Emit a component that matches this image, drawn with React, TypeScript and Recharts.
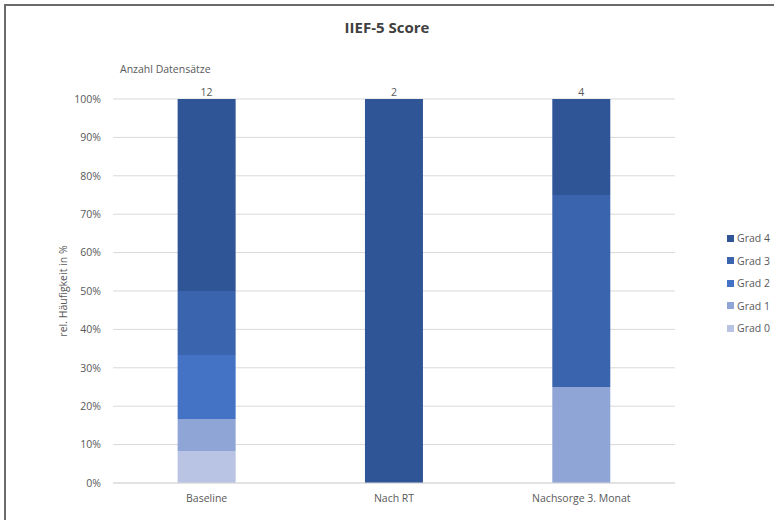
import React from "react";
import { BarChart, Bar, XAxis, YAxis, CartesianGrid, LabelList } from "recharts";

const categories = ["Baseline", "Nach RT", "Nachsorge 3. Monat"];
// Anzahl pro Grad (absolute Zahlen), gestapelt relativ dargestellt
const grad0 = [1, 0, 0];
const grad1 = [1, 0, 1];
const grad2 = [2, 0, 0];
const grad3 = [2, 0, 2];
const grad4 = [6, 2, 1];
const totals = [12, 2, 4];
const yTicks = [0, 0.1, 0.2, 0.3, 0.4, 0.5, 0.6, 0.7, 0.8, 0.9, 1];

const series = [
  { key: "grad0", name: "Grad 0", color: "#B9C4E4" },
  { key: "grad1", name: "Grad 1", color: "#8FA5D6" },
  { key: "grad2", name: "Grad 2", color: "#4472C4" },
  { key: "grad3", name: "Grad 3", color: "#3A64AD" },
  { key: "grad4", name: "Grad 4", color: "#2F5597" },
];

const data = categories.map((cat, i) => ({
  cat,
  grad0: grad0[i],
  grad1: grad1[i],
  grad2: grad2[i],
  grad3: grad3[i],
  grad4: grad4[i],
  total: totals[i],
}));

const font = "'Open Sans', 'Noto Sans', sans-serif";
const textColor = "#595959";

const App = () => {
  return (
    <div
      style={{
        position: "absolute",
        left: 0,
        top: 0,
        width: 774,
        height: 520,
        background: "#fff",
        fontFamily: font,
        overflow: "hidden",
      }}
    >
      <div
        style={{
          position: "absolute",
          left: 4,
          top: 4,
          width: 800,
          height: 540,
          borderLeft: "2px solid #6b6b6b",
          borderTop: "2px solid #6b6b6b",
        }}
      />
      <div
        style={{
          position: "absolute",
          left: 0,
          width: 774,
          top: 17,
          textAlign: "center",
          fontSize: 15,
          fontWeight: 700,
          color: "#404040",
        }}
      >
        IIEF-5 Score
      </div>
      <div
        style={{
          position: "absolute",
          left: 120,
          top: 62,
          fontSize: 10.5,
          color: textColor,
        }}
      >
        Anzahl Datensätze
      </div>
      <div
        style={{
          position: "absolute",
          left: 63,
          top: 291,
          fontSize: 10.5,
          color: textColor,
          whiteSpace: "nowrap",
          transform: "translate(-50%, -50%) rotate(-90deg)",
        }}
      >
        rel. Häufigkeit in %
      </div>
      <BarChart
        width={774}
        height={520}
        data={data}
        stackOffset="expand"
        margin={{ top: 99, right: 99, left: 55, bottom: 7 }}
        barCategoryGap="34.5%"
      >
        <CartesianGrid vertical={false} stroke="#d9d9d9" />
        <XAxis
          dataKey="cat"
          height={30}
          axisLine={{ stroke: "#d9d9d9" }}
          tickLine={false}
          tickMargin={6}
          tick={{ fill: textColor, fontSize: 10.5, fontFamily: font }}
        />
        <YAxis
          width={58}
          domain={[0, 1]}
          ticks={yTicks}
          axisLine={false}
          tickLine={false}
          tickMargin={6}
          tickFormatter={(v: number) => `${Math.round(v * 100)}%`}
          tick={{ fill: textColor, fontSize: 10.5, fontFamily: font }}
        />
        {series.map((s) => (
          <Bar
            key={s.key}
            dataKey={s.key}
            name={s.name}
            stackId="a"
            fill={s.color}
            isAnimationActive={false}
          >
            {s.key === "grad4" && (
              <LabelList
                dataKey="total"
                position="top"
                offset={3}
                fill={textColor}
                fontSize={10.5}
                fontFamily={font}
              />
            )}
          </Bar>
        ))}
      </BarChart>
      <div style={{ position: "absolute", left: 727, top: 227 }}>
        {[...series].reverse().map((s) => (
          <div
            key={s.key}
            style={{
              display: "flex",
              alignItems: "center",
              height: 22.5,
              fontSize: 10.5,
              color: textColor,
            }}
          >
            <span
              style={{
                display: "inline-block",
                width: 7,
                height: 7,
                background: s.color,
                marginRight: 3,
              }}
            />
            {s.name}
          </div>
        ))}
      </div>
    </div>
  );
};

export default App;
